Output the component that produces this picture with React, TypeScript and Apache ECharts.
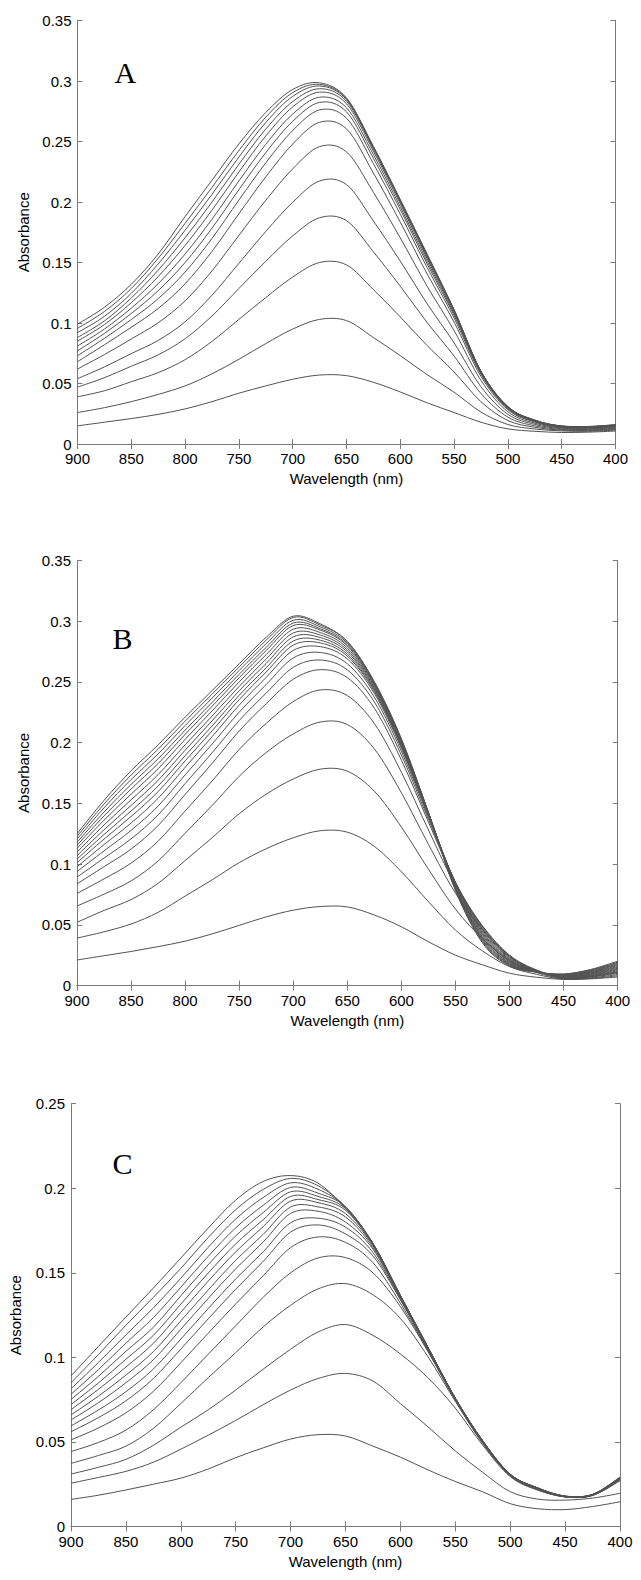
import React, { useEffect, useRef } from "react";
import * as echarts from "echarts";

// Wavelength sampling (nm) shared by every curve
const WAVELENGTHS = [900, 875, 850, 825, 800, 775, 750, 725, 700, 675, 650, 625, 600, 575, 550, 525, 500, 475, 450, 425, 400];

const X_MIN = 400;
const X_MAX = 900;
const X_STEP = 50;
const Y_STEP = 0.05;
const Y_MAX_A = 0.35;
const Y_MAX_B = 0.35;
const Y_MAX_C = 0.25;
const PANEL_LETTERS = ["A", "B", "C"];
const X_AXIS_NAME = "Wavelength (nm)";
const Y_AXIS_NAME = "Absorbance";

// Panel A absorbance curves (one row per spectrum, values at WAVELENGTHS)
const curvesA: number[][] = [
  [0.015, 0.018, 0.021, 0.0245, 0.029, 0.035, 0.042, 0.048, 0.0535, 0.057, 0.0565, 0.051, 0.043, 0.034, 0.026, 0.018, 0.0125, 0.0105, 0.0095, 0.0098, 0.0107],
  [0.026, 0.030, 0.035, 0.041, 0.048, 0.058, 0.070, 0.083, 0.095, 0.103, 0.102, 0.088, 0.073, 0.0573, 0.0428, 0.0264, 0.0161, 0.0124, 0.0108, 0.0105, 0.0115],
  [0.039, 0.044, 0.0515, 0.059, 0.0697, 0.0848, 0.103, 0.121, 0.138, 0.150, 0.148, 0.1276, 0.105, 0.0813, 0.0595, 0.0349, 0.0194, 0.0138, 0.0114, 0.011, 0.012],
  [0.047, 0.0548, 0.0643, 0.0737, 0.087, 0.1058, 0.1285, 0.151, 0.172, 0.187, 0.1846, 0.1588, 0.1304, 0.1003, 0.0727, 0.0417, 0.0222, 0.015, 0.012, 0.0115, 0.0125],
  [0.054, 0.0637, 0.0747, 0.0856, 0.101, 0.123, 0.1493, 0.1757, 0.1998, 0.2174, 0.2144, 0.1843, 0.1511, 0.1158, 0.0836, 0.0473, 0.0245, 0.0162, 0.0126, 0.012, 0.013],
  [0.062, 0.0739, 0.0868, 0.1002, 0.1183, 0.1431, 0.1724, 0.2014, 0.2274, 0.2458, 0.2414, 0.208, 0.1703, 0.1303, 0.0937, 0.0525, 0.0266, 0.0172, 0.0132, 0.0125, 0.0135],
  [0.068, 0.082, 0.0965, 0.112, 0.1324, 0.1592, 0.1903, 0.2208, 0.2479, 0.2659, 0.2604, 0.2239, 0.1833, 0.1405, 0.1007, 0.0558, 0.0283, 0.0181, 0.0137, 0.013, 0.014],
  [0.073, 0.0873, 0.1029, 0.1201, 0.1421, 0.1699, 0.2016, 0.2324, 0.2591, 0.2761, 0.2693, 0.2317, 0.1899, 0.1457, 0.1041, 0.0575, 0.0292, 0.0186, 0.014, 0.0134, 0.0144],
  [0.077, 0.0914, 0.1079, 0.1267, 0.15, 0.1784, 0.2102, 0.2408, 0.2667, 0.2823, 0.2745, 0.2361, 0.1937, 0.1488, 0.1063, 0.0584, 0.0296, 0.0189, 0.0142, 0.0136, 0.0147],
  [0.081, 0.095, 0.1123, 0.1325, 0.157, 0.1858, 0.2174, 0.2477, 0.2727, 0.2866, 0.2779, 0.2392, 0.1961, 0.1509, 0.1078, 0.059, 0.030, 0.0191, 0.0143, 0.0138, 0.015],
  [0.085, 0.0987, 0.1168, 0.1384, 0.1641, 0.1933, 0.2248, 0.2546, 0.2786, 0.2908, 0.2812, 0.242, 0.1986, 0.153, 0.1091, 0.0596, 0.0305, 0.0194, 0.0145, 0.014, 0.0152],
  [0.088, 0.1017, 0.1207, 0.1437, 0.1705, 0.200, 0.2312, 0.2603, 0.283, 0.2936, 0.2833, 0.2438, 0.200, 0.1544, 0.1098, 0.0599, 0.0306, 0.0196, 0.0146, 0.0142, 0.0155],
  [0.092, 0.1055, 0.1245, 0.1488, 0.1767, 0.2064, 0.2372, 0.2657, 0.2873, 0.2959, 0.2846, 0.2451, 0.2011, 0.1554, 0.1105, 0.060, 0.0307, 0.0197, 0.0147, 0.0143, 0.0157],
  [0.0955, 0.1095, 0.1285, 0.1535, 0.1824, 0.2121, 0.2425, 0.2701, 0.2904, 0.2972, 0.2853, 0.2454, 0.2015, 0.156, 0.1107, 0.060, 0.0308, 0.0198, 0.0148, 0.0144, 0.0158],
  [0.099, 0.113, 0.132, 0.157, 0.188, 0.218, 0.248, 0.274, 0.293, 0.2985, 0.286, 0.246, 0.202, 0.157, 0.111, 0.060, 0.031, 0.019, 0.015, 0.0145, 0.016],
];

// Panel B absorbance curves
const curvesB: number[][] = [
  [0.021, 0.0245, 0.028, 0.032, 0.0365, 0.0425, 0.0495, 0.0565, 0.062, 0.065, 0.0647, 0.058, 0.0483, 0.036, 0.025, 0.017, 0.0101, 0.0068, 0.005, 0.0055, 0.007],
  [0.039, 0.0442, 0.0506, 0.0602, 0.0736, 0.087, 0.1011, 0.1126, 0.1216, 0.1274, 0.1262, 0.1145, 0.0936, 0.069, 0.0456, 0.0284, 0.0155, 0.0092, 0.0052, 0.0058, 0.008],
  [0.052, 0.0618, 0.0707, 0.0841, 0.1029, 0.1217, 0.1414, 0.1575, 0.170, 0.1781, 0.1764, 0.1599, 0.1304, 0.0957, 0.0628, 0.0385, 0.0202, 0.0107, 0.0057, 0.0063, 0.009],
  [0.0654, 0.0752, 0.0861, 0.1025, 0.1254, 0.1482, 0.1722, 0.1918, 0.2071, 0.2169, 0.2148, 0.1947, 0.1586, 0.1162, 0.076, 0.0463, 0.024, 0.0124, 0.0062, 0.0069, 0.010],
  [0.0757, 0.0878, 0.1007, 0.1188, 0.1437, 0.1684, 0.1943, 0.2158, 0.2337, 0.2433, 0.2386, 0.2156, 0.1755, 0.128, 0.0823, 0.0489, 0.025, 0.0128, 0.0065, 0.0073, 0.011],
  [0.0837, 0.0978, 0.1123, 0.1316, 0.1573, 0.1829, 0.2095, 0.232, 0.2521, 0.26, 0.2534, 0.2282, 0.1855, 0.1345, 0.0848, 0.0489, 0.0243, 0.0123, 0.0059, 0.0075, 0.0106],
  [0.0892, 0.1049, 0.1207, 0.1404, 0.1662, 0.1916, 0.2181, 0.2407, 0.2619, 0.2679, 0.2598, 0.2333, 0.1896, 0.1368, 0.0849, 0.0478, 0.0235, 0.0121, 0.0062, 0.008, 0.0113],
  [0.0938, 0.1108, 0.1277, 0.1477, 0.1734, 0.1988, 0.225, 0.2478, 0.2696, 0.2741, 0.2648, 0.2373, 0.1928, 0.1387, 0.0849, 0.0468, 0.0229, 0.012, 0.0065, 0.0084, 0.012],
  [0.0977, 0.116, 0.1337, 0.1541, 0.1796, 0.2049, 0.2308, 0.2537, 0.2758, 0.2789, 0.2688, 0.2404, 0.1952, 0.14, 0.0847, 0.0458, 0.0221, 0.0118, 0.0067, 0.0088, 0.0128],
  [0.1011, 0.1205, 0.1391, 0.1596, 0.1849, 0.2097, 0.2353, 0.2581, 0.2802, 0.282, 0.2711, 0.242, 0.1965, 0.1405, 0.084, 0.0445, 0.0214, 0.0117, 0.007, 0.0093, 0.0135],
  [0.104, 0.1243, 0.1436, 0.1642, 0.1892, 0.2137, 0.2389, 0.2616, 0.2836, 0.2842, 0.2727, 0.243, 0.1973, 0.1408, 0.0834, 0.0434, 0.0208, 0.0116, 0.0073, 0.0097, 0.0142],
  [0.1069, 0.1282, 0.1482, 0.1689, 0.1937, 0.2179, 0.2426, 0.2652, 0.287, 0.2864, 0.2745, 0.2442, 0.1982, 0.1411, 0.0827, 0.0423, 0.0202, 0.0115, 0.0076, 0.0102, 0.0149],
  [0.1098, 0.1321, 0.1528, 0.1736, 0.1981, 0.2219, 0.2462, 0.2688, 0.2902, 0.2885, 0.2761, 0.2452, 0.1991, 0.1414, 0.082, 0.0411, 0.0195, 0.0114, 0.0079, 0.0106, 0.0156],
  [0.1128, 0.1361, 0.1575, 0.1784, 0.2026, 0.2261, 0.2499, 0.2724, 0.2933, 0.2905, 0.2778, 0.2463, 0.1998, 0.1416, 0.0811, 0.0398, 0.0187, 0.0112, 0.0081, 0.011, 0.0164],
  [0.1154, 0.1396, 0.1617, 0.1827, 0.2067, 0.2299, 0.2534, 0.2758, 0.2963, 0.2925, 0.2795, 0.2475, 0.2008, 0.142, 0.0806, 0.0389, 0.0182, 0.0112, 0.0084, 0.0114, 0.0171],
  [0.1178, 0.1428, 0.1655, 0.1866, 0.2102, 0.2331, 0.2562, 0.2784, 0.2984, 0.2937, 0.2805, 0.248, 0.2012, 0.142, 0.0799, 0.0379, 0.0176, 0.0112, 0.0087, 0.0119, 0.0178],
  [0.1204, 0.1462, 0.1695, 0.1906, 0.214, 0.2366, 0.2593, 0.2814, 0.3007, 0.2952, 0.2818, 0.2488, 0.2019, 0.1422, 0.0793, 0.0368, 0.0171, 0.0111, 0.009, 0.0123, 0.0185],
  [0.1227, 0.1494, 0.1732, 0.1945, 0.2176, 0.2399, 0.2622, 0.2843, 0.303, 0.2966, 0.2832, 0.2497, 0.2025, 0.1424, 0.0787, 0.0359, 0.0166, 0.0111, 0.0093, 0.0128, 0.0192],
  [0.1249, 0.1524, 0.1767, 0.1981, 0.2209, 0.2428, 0.2648, 0.2867, 0.3040, 0.2977, 0.283, 0.25, 0.203, 0.1423, 0.078, 0.035, 0.016, 0.011, 0.0095, 0.0132, 0.020],
];

// Panel C absorbance curves
const curvesC: number[][] = [
  [0.016, 0.0185, 0.0216, 0.025, 0.0286, 0.034, 0.0407, 0.0465, 0.0517, 0.0543, 0.0535, 0.0475, 0.041, 0.0335, 0.0266, 0.0205, 0.0135, 0.0105, 0.010, 0.0118, 0.0146],
  [0.0256, 0.029, 0.0326, 0.038, 0.0457, 0.054, 0.0627, 0.072, 0.0807, 0.0875, 0.0905, 0.086, 0.0727, 0.059, 0.0447, 0.032, 0.0206, 0.0162, 0.0156, 0.0168, 0.0196],
  [0.031, 0.035, 0.0397, 0.048, 0.0587, 0.069, 0.0807, 0.093, 0.1048, 0.115, 0.1194, 0.113, 0.102, 0.088, 0.070, 0.048, 0.0295, 0.0215, 0.0175, 0.0183, 0.027],
  [0.0373, 0.042, 0.0475, 0.058, 0.0727, 0.088, 0.1028, 0.118, 0.1308, 0.1405, 0.1436, 0.137, 0.123, 0.1005, 0.074, 0.049, 0.030, 0.0218, 0.0175, 0.0184, 0.0275],
  [0.0443, 0.0497, 0.057, 0.069, 0.085, 0.1019, 0.1187, 0.1355, 0.150, 0.1588, 0.159, 0.150, 0.130, 0.1035, 0.0748, 0.0495, 0.0302, 0.022, 0.0176, 0.0185, 0.0278],
  [0.0512, 0.0583, 0.0672, 0.0799, 0.0968, 0.1143, 0.1316, 0.1482, 0.1649, 0.1712, 0.168, 0.156, 0.132, 0.104, 0.075, 0.0497, 0.0303, 0.0222, 0.0176, 0.0185, 0.028],
  [0.056, 0.0644, 0.0743, 0.0875, 0.1049, 0.1228, 0.1403, 0.1567, 0.1741, 0.1783, 0.173, 0.160, 0.134, 0.1045, 0.0752, 0.0499, 0.0304, 0.0223, 0.0176, 0.0186, 0.0281],
  [0.0595, 0.0689, 0.0797, 0.0931, 0.1108, 0.1289, 0.1464, 0.1624, 0.1796, 0.1823, 0.177, 0.162, 0.1345, 0.105, 0.0754, 0.0501, 0.0305, 0.0224, 0.0177, 0.0186, 0.0282],
  [0.063, 0.0732, 0.085, 0.0986, 0.1166, 0.1349, 0.1524, 0.1682, 0.1851, 0.1864, 0.180, 0.164, 0.135, 0.1052, 0.0755, 0.0502, 0.0306, 0.0225, 0.0177, 0.0187, 0.0283],
  [0.066, 0.0771, 0.0895, 0.1034, 0.1216, 0.1399, 0.1574, 0.1727, 0.1889, 0.189, 0.183, 0.165, 0.1355, 0.1055, 0.0756, 0.0503, 0.0306, 0.0225, 0.0177, 0.0187, 0.0284],
  [0.0691, 0.0811, 0.0943, 0.1083, 0.1267, 0.1451, 0.1624, 0.1773, 0.1924, 0.1915, 0.185, 0.166, 0.136, 0.1057, 0.0757, 0.0504, 0.0307, 0.0226, 0.0178, 0.0187, 0.0285],
  [0.0721, 0.0849, 0.0989, 0.113, 0.1315, 0.1499, 0.1671, 0.1814, 0.1952, 0.1933, 0.187, 0.1665, 0.1362, 0.1058, 0.0757, 0.0505, 0.0307, 0.0226, 0.0178, 0.0188, 0.0286],
  [0.0751, 0.0888, 0.1036, 0.1178, 0.1364, 0.1548, 0.1718, 0.1856, 0.1979, 0.1952, 0.188, 0.167, 0.1364, 0.106, 0.0758, 0.0505, 0.0308, 0.0227, 0.0178, 0.0188, 0.0287],
  [0.0782, 0.0928, 0.1084, 0.1235, 0.1415, 0.1598, 0.1766, 0.1899, 0.2005, 0.1971, 0.189, 0.1672, 0.1365, 0.106, 0.0758, 0.0506, 0.0308, 0.0227, 0.0179, 0.0189, 0.0288],
  [0.0814, 0.097, 0.1133, 0.1292, 0.1468, 0.1651, 0.1818, 0.1945, 0.2032, 0.1994, 0.189, 0.1674, 0.1366, 0.1061, 0.0759, 0.0506, 0.0309, 0.0228, 0.0179, 0.0189, 0.0289],
  [0.085, 0.1017, 0.119, 0.1355, 0.1526, 0.1709, 0.1873, 0.1993, 0.2058, 0.2015, 0.189, 0.1675, 0.1367, 0.1061, 0.0759, 0.0507, 0.0309, 0.0228, 0.018, 0.019, 0.029],
  [0.089, 0.1065, 0.1238, 0.141, 0.1587, 0.1765, 0.193, 0.204, 0.2075, 0.203, 0.188, 0.1672, 0.1365, 0.106, 0.0759, 0.0507, 0.031, 0.0229, 0.018, 0.019, 0.0292],
];

const SANS = '"Liberation Sans", Arial, Helvetica, sans-serif';
const SERIF = '"Liberation Serif", "Times New Roman", serif';
const FRAME = "#7a7a7a";
const CURVE = "#525252";

const GRIDS = [
  { left: 77.5, top: 20.5, width: 538, height: 423.5 },
  { left: 77, top: 560.3, width: 540.7, height: 425.2 },
  { left: 70.5, top: 1103.7, width: 549.5, height: 422.8 },
];
const LETTER_POS = [
  { x: 114.5, y: 72.7 },
  { x: 112.5, y: 638 },
  { x: 112.5, y: 1163 },
];

// Catmull-Rom spline through pixel points (drawing helper only)
function splinePath(pts: number[][]): string {
  let d = `M${pts[0][0].toFixed(2)},${pts[0][1].toFixed(2)}`;
  for (let i = 0; i < pts.length - 1; i++) {
    const p0 = pts[i - 1] || pts[i];
    const p1 = pts[i];
    const p2 = pts[i + 1];
    const p3 = pts[i + 2] || p2;
    const c1x = p1[0] + (p2[0] - p0[0]) / 6;
    const c1y = p1[1] + (p2[1] - p0[1]) / 6;
    const c2x = p2[0] - (p3[0] - p1[0]) / 6;
    const c2y = p2[1] - (p3[1] - p1[1]) / 6;
    d += ` C${c1x.toFixed(2)},${c1y.toFixed(2)} ${c2x.toFixed(2)},${c2y.toFixed(2)} ${p2[0].toFixed(2)},${p2[1].toFixed(2)}`;
  }
  return d;
}

export default function App() {
  const ref = useRef<HTMLDivElement | null>(null);

  useEffect(() => {
    if (!ref.current) return;
    const chart = echarts.init(ref.current, null, { renderer: "svg" });
    const yMaxes = [Y_MAX_A, Y_MAX_B, Y_MAX_C];
    const panels = [curvesA, curvesB, curvesC];

    const xAxes: any[] = [];
    const yAxes: any[] = [];
    const series: any[] = [];

    panels.forEach((curves, g) => {
      const lineCommon = { show: true, lineStyle: { color: FRAME, width: 1 } };
      const tickCommon = { show: true, inside: true, length: 5, lineStyle: { color: FRAME, width: 1 } };
      xAxes.push({
        type: "value", gridIndex: g, position: "bottom", inverse: true,
        min: X_MIN, max: X_MAX, interval: X_STEP,
        axisLine: lineCommon, axisTick: tickCommon, splitLine: { show: false },
        axisLabel: { color: "#000", fontSize: 15, lineHeight: 15, fontFamily: SANS, margin: 7 },
        name: X_AXIS_NAME, nameLocation: "middle", nameGap: 27,
        nameTextStyle: { color: "#000", fontSize: 15, fontFamily: SANS },
      });
      xAxes.push({
        type: "value", gridIndex: g, position: "top", inverse: true,
        min: X_MIN, max: X_MAX, interval: X_STEP,
        axisLine: lineCommon, axisTick: tickCommon, splitLine: { show: false },
        axisLabel: { show: false },
      });
      yAxes.push({
        type: "value", gridIndex: g, position: "left",
        min: 0, max: yMaxes[g], interval: Y_STEP,
        axisLine: lineCommon, axisTick: tickCommon, splitLine: { show: false },
        axisLabel: { color: "#000", fontSize: 15, lineHeight: 13, fontFamily: SANS, margin: 6 },
        name: Y_AXIS_NAME, nameLocation: "middle", nameGap: g === 2 ? 48 : 46,
        nameTextStyle: { color: "#000", fontSize: 15, fontFamily: SANS },
      });
      yAxes.push({
        type: "value", gridIndex: g, position: "right",
        min: 0, max: yMaxes[g], interval: Y_STEP,
        axisLine: lineCommon, axisTick: tickCommon, splitLine: { show: false },
        axisLabel: { show: false },
      });
      curves.forEach((vals, i) => {
        series.push({
          type: "custom",
          name: `${PANEL_LETTERS[g]}${i + 1}`,
          xAxisIndex: g * 2,
          yAxisIndex: g * 2,
          silent: true,
          clip: false,
          data: [[WAVELENGTHS[9], vals[9]]],
          encode: { x: 0, y: 1 },
          renderItem: (_params: any, api: any) => {
            const pts = WAVELENGTHS.map((w, k) => api.coord([w, vals[k]]));
            return {
              type: "path",
              shape: { pathData: splinePath(pts) },
              style: { stroke: CURVE, fill: "none", lineWidth: 1 },
            };
          },
        });
      });
    });

    chart.setOption({
      animation: false,
      backgroundColor: "#ffffff",
      grid: GRIDS.map((gr) => ({ ...gr, containLabel: false })),
      xAxis: xAxes,
      yAxis: yAxes,
      series,
      graphic: PANEL_LETTERS.map((letter, i) => ({
        type: "text",
        x: LETTER_POS[i].x,
        y: LETTER_POS[i].y,
        silent: true,
        style: {
          text: letter,
          font: `30px ${SERIF}`,
          fill: "#000",
          align: "left",
          verticalAlign: "middle",
        },
      })),
    });

    return () => chart.dispose();
  }, []);

  return (
    <div
      ref={ref}
      style={{ position: "absolute", left: 0, top: 0, width: 641, height: 1580, background: "#fff" }}
    />
  );
}
